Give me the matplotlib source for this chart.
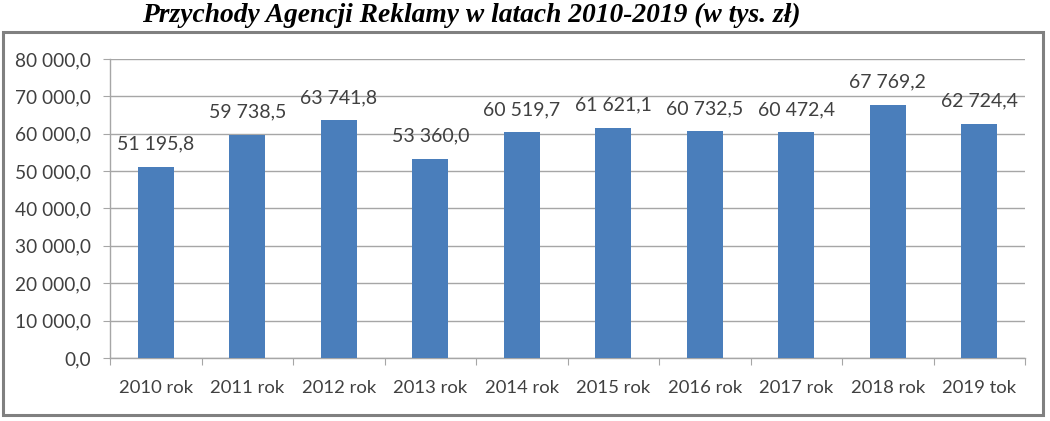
import matplotlib
matplotlib.use("Agg")
import matplotlib.pyplot as plt
from matplotlib.patches import Rectangle
from matplotlib.ticker import FuncFormatter, FixedLocator, NullFormatter
import numpy as np

categories = ["2010 rok", "2011 rok", "2012 rok", "2013 rok", "2014 rok",
              "2015 rok", "2016 rok", "2017 rok", "2018 rok", "2019 tok"]
values = [51195.8, 59738.5, 63741.8, 53360.0, 60519.7,
          61621.1, 60732.5, 60472.4, 67769.2, 62724.4]
title = "Przychody Agencji Reklamy w latach 2010-2019 (w tys. zł)"

def pl_fmt(v):
    s = f"{v:,.1f}"
    return s.replace(",", " ").replace(".", ",")

plt.rcParams['font.family'] = ['Lato', 'DejaVu Sans']
txt_col = "#404040"
grid_col = "#A6A6A6"
bar_col = "#4A7EBB"

fig = plt.figure(figsize=(10.5, 4.21), dpi=100)
fig.patches.append(Rectangle((3/1050, 6/421), 1040/1050, 383/421, transform=fig.transFigure,
                             fill=False, edgecolor="#808080", linewidth=2.2, zorder=0))
fig.text(0.449, 0.964, title, ha="center", va="center", fontsize=19.8,
         family="Liberation Serif", fontweight="bold", fontstyle="italic", color="black")

ax = fig.add_axes([110/1050, 1-358/421, 915/1050, 299/421])
x = np.arange(len(categories))
ax.bar(x, values, width=0.39, color=bar_col, zorder=3)
ax.set_xlim(-0.5, len(categories)-0.5)
ax.set_ylim(0, 80000)
ax.set_yticks(np.arange(0, 80001, 10000))
ax.yaxis.set_major_formatter(FuncFormatter(lambda v, p: pl_fmt(v)))
ax.grid(axis="y", color=grid_col, linewidth=1, zorder=0)
for s in ["top", "right"]:
    ax.spines[s].set_visible(False)
for s in ["left", "bottom"]:
    ax.spines[s].set_color(grid_col)
    ax.spines[s].set_linewidth(1)
ax.tick_params(axis="y", length=5, color=grid_col, labelsize=13.8, labelcolor=txt_col, pad=9)
ax.xaxis.set_major_locator(FixedLocator(np.arange(-0.5, len(categories), 1)))
ax.xaxis.set_major_formatter(NullFormatter())
ax.xaxis.set_minor_locator(FixedLocator(x))
ax.set_xticklabels(categories, minor=True)
ax.tick_params(axis="x", which="major", length=5, color=grid_col)
ax.tick_params(axis="x", which="minor", length=0, labelsize=13.3, labelcolor=txt_col, pad=16)

for xi, v in zip(x, values):
    ax.annotate(pl_fmt(v), (xi, v), xytext=(0, 10), textcoords="offset points",
                ha="center", va="bottom", fontsize=14, color=txt_col, zorder=4)

fig.savefig("out.png", dpi=100)
